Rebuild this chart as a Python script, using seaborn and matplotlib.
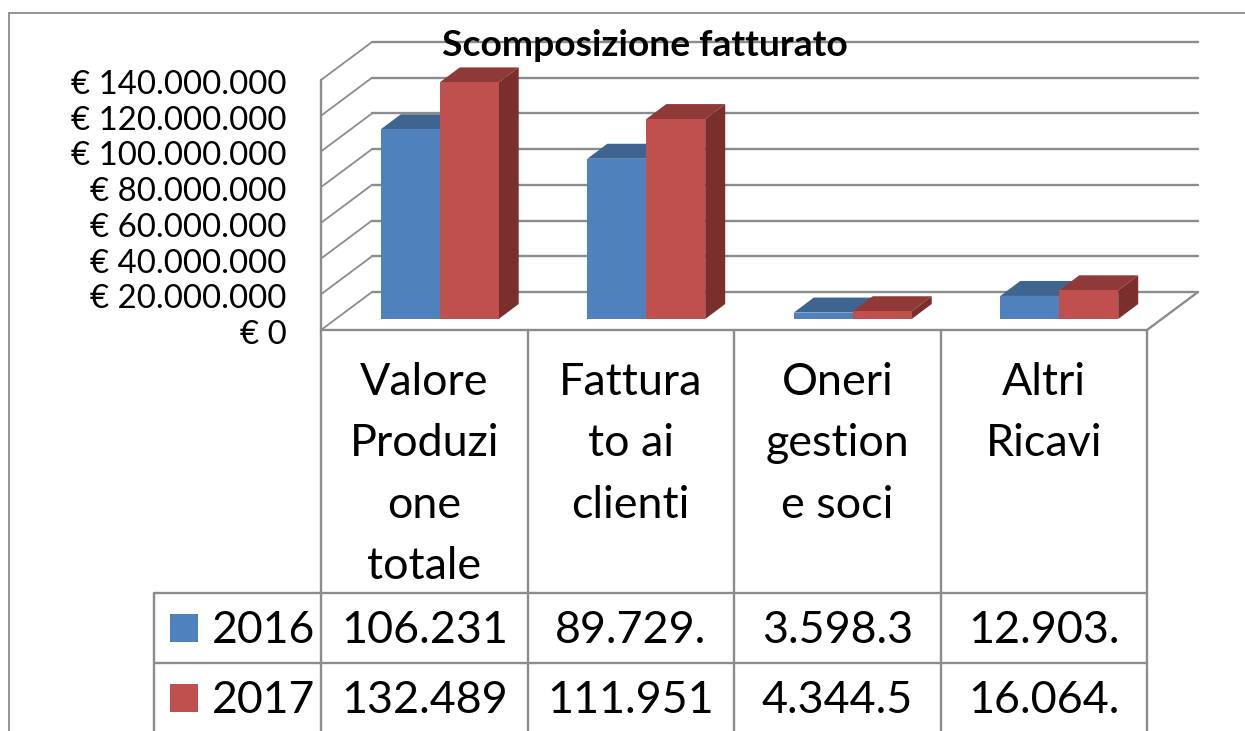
import matplotlib
matplotlib.use("Agg")
import matplotlib.pyplot as plt
import pandas as pd
import seaborn as sns
from matplotlib.lines import Line2D
from matplotlib.patches import Polygon, Rectangle
from matplotlib.ticker import FuncFormatter
from matplotlib.transforms import Affine2D, IdentityTransform, blended_transform_factory

# Data (data table is cut off in the source picture)
categories = ["Valore\nProduzi\none\ntotale", "Fattura\nto ai\nclienti", "Oneri\ngestion\ne soci", "Altri\nRicavi"]
years = ["2016", "2017"]
values_2016 = [106231000, 89729000, 3598300, 12903000]
values_2017 = [132489000, 111951000, 4344500, 16064000]
table_2016 = ["106.231", "89.729.", "3.598.3", "12.903."]
table_2017 = ["132.489", "111.951", "4.344.5", "16.064."]
y_ticks = [0, 20000000, 40000000, 60000000, 80000000, 100000000, 120000000, 140000000]

front_colors = ["#4F81BD", "#C0504D"]
top_colors = ["#3E6490", "#8F3A38"]
side_colors = ["#345478", "#7A2F2D"]
line_color = "#8C8C8C"

W, H = 1245, 731

sns.set_theme(style="white")
plt.rcParams["font.family"] = ["Lato", "DejaVu Sans"]

df = pd.DataFrame({
    "category": categories * 2,
    "year": [years[0]] * 4 + [years[1]] * 4,
    "value": values_2016 + values_2017,
})

fig = plt.figure(figsize=(W / 100, H / 100), dpi=100)
ax = fig.add_axes([321 / W, 1 - 330 / H, 826 / W, 250 / H])
ax.patch.set_visible(False)

sns.barplot(data=df, x="category", y="value", hue="year", palette=front_colors,
            saturation=1, width=0.571, gap=0, legend=False, ax=ax, zorder=3)

ax.set_xlim(-0.5, 3.5)
ax.set_ylim(0, 140000000)
ax.set_xlabel("")
ax.set_ylabel("")
sns.despine(ax=ax, left=True, bottom=True)

# y axis labels
ax.set_yticks(y_ticks)
ax.yaxis.set_major_formatter(FuncFormatter(lambda v, p: "€ " + f"{int(v):,}".replace(",", ".")))
ax.tick_params(axis="y", length=0, pad=25, labelsize=23.8, labelcolor="black")
ax.tick_params(axis="x", length=0, pad=23, labelsize=32.3, labelcolor="black")
for lab in ax.get_xticklabels():
    lab.set_linespacing(1.62)
for lab in ax.get_yticklabels():
    lab.set_transform(lab.get_transform() + Affine2D().translate(0, -2))

# pixel coordinates from the top left corner of the picture
px = Affine2D().scale(1 / W, -1 / H).translate(0, 1) + fig.transFigure
back = ax.transData + Affine2D().translate(51, 38)
bar_shift = Affine2D().translate(15.5, 11)


def line(xs, ys, trans=px, lw=1.7, color=line_color, z=1):
    fig.add_artist(Line2D(xs, ys, transform=trans, lw=lw, color=color, zorder=z))


# back wall and side wall
for t in y_ticks:
    ax.plot([-0.5, 3.5], [t, t], transform=back, color=line_color, lw=1.7, clip_on=False, zorder=1)
    p0 = ax.transData.transform((-0.5, t))
    ax.plot([p0[0], p0[0] + 51], [p0[1], p0[1] + 38], transform=IdentityTransform(),
            color=line_color, lw=1.3, clip_on=False, zorder=1)
ax.plot([-0.5, -0.5], [0, 140000000], color=line_color, lw=1.7, clip_on=False, zorder=1)
p1 = ax.transData.transform((3.5, 0))
ax.plot([p1[0], p1[0] + 51], [p1[1], p1[1] + 38], transform=IdentityTransform(),
        color=line_color, lw=1.7, clip_on=False, zorder=1)

# bars: move the fronts into the floor, add top and side faces
dx, dy = 20, 15
bars = [b for b in ax.patches if b.get_height() > 0]
for i, b in enumerate(bars):
    s = i // 4
    b.set_transform(ax.transData + bar_shift)
    b.set_edgecolor("none")
    b.set_zorder(3 + 2 * s)
    x0, y0 = (ax.transData + bar_shift).transform((b.get_x(), 0))
    x1, y1 = (ax.transData + bar_shift).transform((b.get_x() + b.get_width(), b.get_height()))
    ax.add_patch(Polygon([(x0, y1), (x1, y1), (x1 + dx, y1 + dy), (x0 + dx, y1 + dy)],
                         transform=IdentityTransform(), fc=top_colors[s], ec="none",
                         clip_on=False, zorder=2 + 2 * s))
    ax.add_patch(Polygon([(x1, y0), (x1 + dx, y0 + dy), (x1 + dx, y1 + dy), (x1, y1)],
                         transform=IdentityTransform(), fc=side_colors[s], ec="none",
                         clip_on=False, zorder=2 + 2 * s))
    b.set_clip_on(False)

# chart frame
line([9, 9], [13, 731], lw=1.3)
line([9, 1245], [13, 13], lw=1.3)

# category and data table grid
line([321, 1147], [330, 330])
line([154, 1147], [593, 593])
line([154, 1147], [663, 663])
line([154, 154], [593, 731])
for x in [321, 527.5, 734, 941, 1147]:
    line([x, x], [330, 731])

# data table text
xy_text = blended_transform_factory(ax.transData, px)
for j, row in enumerate([table_2016, table_2017]):
    base = [643, 713][j]
    for i, txt in enumerate(row):
        fig.add_artist(plt.Text(i, base, txt, transform=xy_text, fontsize=32.3, ha="center",
                                va="baseline", color="black"))
    fig.add_artist(plt.Text(212, base, years[j], transform=px, fontsize=32, ha="left",
                            va="baseline", color="black"))
    fig.add_artist(Rectangle((170, base - 29), 28, 28, transform=px, fc=front_colors[j], ec="none"))

fig.add_artist(plt.Text(645, 46, "Scomposizione fatturato", transform=px, fontsize=26.8,
                        fontweight="bold", ha="center", va="center", color="black", zorder=10))

fig.savefig("out.png", dpi=100)
plt.close(fig)
